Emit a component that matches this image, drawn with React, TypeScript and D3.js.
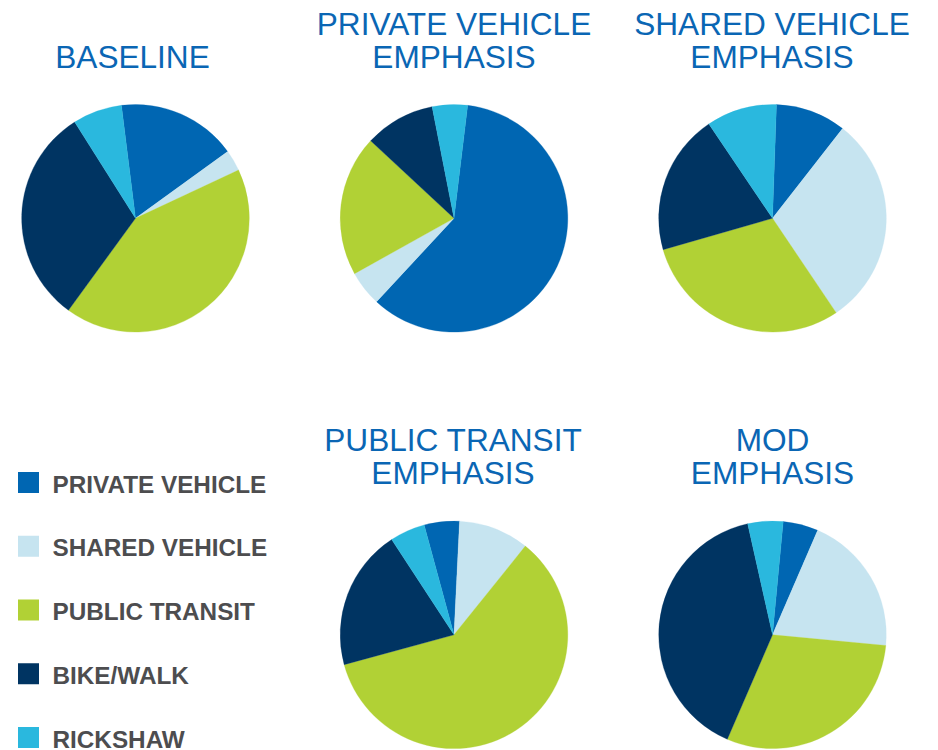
import React from "react";
import * as d3 from "d3";

const categories = ["PRIVATE VEHICLE", "SHARED VEHICLE", "PUBLIC TRANSIT", "BIKE/WALK", "RICKSHAW"];
const colors = ["#0066B2", "#C6E4F0", "#B1D135", "#003462", "#2AB8DE"];

const scenarioTitles = [
  ["BASELINE"],
  ["PRIVATE VEHICLE", "EMPHASIS"],
  ["SHARED VEHICLE", "EMPHASIS"],
  ["PUBLIC TRANSIT", "EMPHASIS"],
  ["MOD", "EMPHASIS"],
];

const baselineValues = [17, 3, 42, 31, 7];
const privateEmphasisValues = [60, 5, 20, 10, 5];
const sharedEmphasisValues = [10, 30, 30, 20, 10];
const transitEmphasisValues = [5, 10, 60, 20, 5];
const modEmphasisValues = [5, 20, 30, 40, 5];

const scenarioValues = [
  baselineValues,
  privateEmphasisValues,
  sharedEmphasisValues,
  transitEmphasisValues,
  modEmphasisValues,
];

// rotation of the first slice, degrees clockwise from 12 o'clock
const startAngles = [-7.1, 6.9, 2.0, -15.2, 5.4];

const W = 938;
const H = 750;

const layout = [
  { cx: 135.5, cy: 218.3, tx: 132.5, ty: [68.3] },
  { cx: 454, cy: 218.3, tx: 454, ty: [35.3, 68.3] },
  { cx: 772.5, cy: 218.3, tx: 772, ty: [35.3, 68.3] },
  { cx: 454, cy: 634.8, tx: 453, ty: [451, 483.8] },
  { cx: 772.5, cy: 634.8, tx: 772.5, ty: [451, 483.8] },
];

const R = 113.8;
const TITLE_COLOR = "#0A66B4";
const LEGEND_TEXT = "#4D4D4F";
const FONT = "'Liberation Sans', Arial, Helvetica, sans-serif";

export default function App() {
  const arc = d3.arc<d3.PieArcDatum<number>>().innerRadius(0).outerRadius(R);
  const color = d3.scaleOrdinal<number, string>().domain(d3.range(categories.length)).range(colors);
  const legendY = d3.scalePoint<number>().domain(d3.range(categories.length)).range([472, 727]);

  return (
    <svg
      width={W}
      height={H}
      viewBox={`0 0 ${W} ${H}`}
      style={{ position: "absolute", left: 0, top: 0, background: "#fff" }}
      fontFamily={FONT}
    >
      <rect x={0} y={0} width={W} height={H} fill="#fff" />
      {scenarioValues.map((vals, si) => {
        const s = (startAngles[si] * Math.PI) / 180;
        const pie = d3
          .pie<number>()
          .sort(null)
          .value((d) => d)
          .startAngle(s)
          .endAngle(s + 2 * Math.PI);
        const arcs = pie(vals);
        const L = layout[si];
        return (
          <g key={si}>
            <g transform={`translate(${L.cx},${L.cy})`}>
              {arcs.map((a, i) => (
                <path key={i} d={arc(a) || ""} fill={color(i)} stroke={color(i)} strokeWidth={0.3} />
              ))}
            </g>
            {scenarioTitles[si].map((t, li) => (
              <text
                key={li}
                x={L.tx}
                y={L.ty[li]}
                textAnchor="middle"
                fontSize={31.6}
                fill={TITLE_COLOR}
              >
                {t}
              </text>
            ))}
          </g>
        );
      })}
      {categories.map((c, i) => {
        const y = legendY(i) as number;
        return (
          <g key={c}>
            <rect x={18} y={y} width={21} height={21} fill={color(i)} />
            <text x={52.5} y={y + 20.5} fontSize={24.3} fontWeight="bold" fill={LEGEND_TEXT}>
              {c}
            </text>
          </g>
        );
      })}
    </svg>
  );
}
